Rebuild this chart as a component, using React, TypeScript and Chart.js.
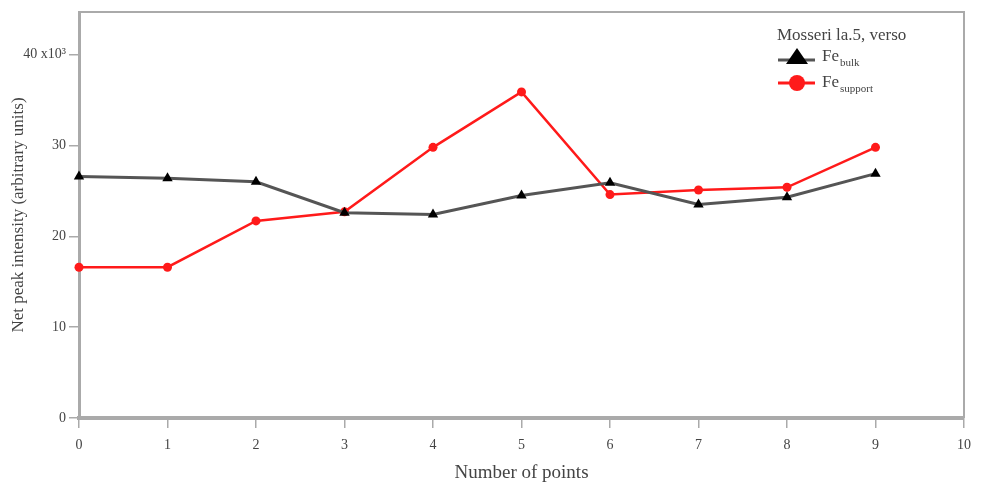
import React, { useEffect, useRef } from "react";
import { Chart, registerables } from "chart.js";

Chart.register(...registerables);

// ---- data ----
const xPoints = [0, 1, 2, 3, 4, 5, 6, 7, 8, 9];
const feBulk = [26.6, 26.4, 26.0, 22.6, 22.4, 24.5, 25.9, 23.5, 24.3, 26.9];
const feSupport = [16.6, 16.6, 21.7, 22.7, 29.8, 35.9, 24.6, 25.1, 25.4, 29.8];
const yTickLabels: Record<number, string> = { 0: "0", 10: "10", 20: "20", 30: "30", 40: "40 x10\u00B3" };
const xTickLabels = ["0", "1", "2", "3", "4", "5", "6", "7", "8", "9", "10"];
const seriesMain = ["Fe", "Fe"];
const seriesSub = ["bulk", "support"];
const legendTitle = "Mosseri la.5, verso";
const xTitle = "Number of points";
const yTitle = "Net peak intensity (arbitrary units)";

const FONT = "'Liberation Serif', 'DejaVu Serif', serif";
const TEXT = "#444";
const AXIS = "#aaa";
const BLACK_LINE = "#555";
const RED = "#ff1a1a";

const framePlugin = {
  id: "frame",
  afterDraw(chart: any) {
    const { ctx, chartArea } = chart;
    ctx.save();
    ctx.strokeStyle = AXIS;
    ctx.lineWidth = 2;
    ctx.beginPath();
    ctx.moveTo(chartArea.left, chartArea.top);
    ctx.lineTo(chartArea.right, chartArea.top);
    ctx.lineTo(chartArea.right, chartArea.bottom);
    ctx.stroke();

    // legend
    const lx = 778;
    ctx.fillStyle = TEXT;
    ctx.font = `17px ${FONT}`;
    ctx.textBaseline = "middle";
    ctx.textAlign = "left";
    ctx.fillText(legendTitle, 777, 36);

    const rows = [57, 83];
    // row 1: triangle
    ctx.strokeStyle = BLACK_LINE;
    ctx.lineWidth = 3;
    ctx.beginPath();
    ctx.moveTo(lx, rows[0] + 3);
    ctx.lineTo(lx + 37, rows[0] + 3);
    ctx.stroke();
    ctx.fillStyle = "#000";
    ctx.beginPath();
    ctx.moveTo(797, rows[0] - 9);
    ctx.lineTo(808, rows[0] + 7);
    ctx.lineTo(786, rows[0] + 7);
    ctx.closePath();
    ctx.fill();
    // row 2: circle
    ctx.strokeStyle = RED;
    ctx.lineWidth = 3;
    ctx.beginPath();
    ctx.moveTo(lx, rows[1]);
    ctx.lineTo(lx + 37, rows[1]);
    ctx.stroke();
    ctx.fillStyle = RED;
    ctx.beginPath();
    ctx.arc(797, rows[1], 8, 0, Math.PI * 2);
    ctx.fill();

    for (let i = 0; i < 2; i++) {
      ctx.fillStyle = TEXT;
      ctx.font = `17px ${FONT}`;
      ctx.fillText(seriesMain[i], 822, rows[i]);
      const w = ctx.measureText(seriesMain[i]).width;
      ctx.font = `11px ${FONT}`;
      ctx.fillText(seriesSub[i], 822 + w + 1, rows[i] + 6);
    }
    ctx.restore();
  },
};

export default function App() {
  const ref = useRef<HTMLCanvasElement>(null);
  useEffect(() => {
    document.body.style.margin = "0";
    const chart = new Chart(ref.current!, {
      type: "line",
      data: {
        datasets: [
          {
            label: seriesMain[0] + seriesSub[0],
            data: xPoints.map((x, i) => ({ x, y: feBulk[i] })),
            borderColor: BLACK_LINE,
            borderWidth: 3,
            pointStyle: "triangle",
            pointRadius: 6,
            pointBackgroundColor: "#000",
            pointBorderColor: "#000",
            pointBorderWidth: 0,
            tension: 0,
            clip: false,
          },
          {
            label: seriesMain[1] + seriesSub[1],
            data: xPoints.map((x, i) => ({ x, y: feSupport[i] })),
            borderColor: RED,
            borderWidth: 2.5,
            pointStyle: "circle",
            pointRadius: 4.5,
            pointBackgroundColor: RED,
            pointBorderColor: RED,
            pointBorderWidth: 0,
            tension: 0,
            clip: false,
          },
        ],
      },
      options: {
        animation: false,
        responsive: false,
        maintainAspectRatio: false,
        layout: { padding: { top: 12, right: 20, left: 0, bottom: 0 } },
        plugins: { legend: { display: false }, tooltip: { enabled: false } },
        scales: {
          x: {
            type: "linear",
            min: 0,
            max: 10,
            afterFit: (s: any) => {
              s.height = 72;
            },
            grid: { drawOnChartArea: false, tickLength: 10, color: AXIS, lineWidth: 1.5 },
            border: { color: AXIS, width: 4 },
            ticks: {
              stepSize: 1,
              padding: 9,
              color: TEXT,
              font: { family: FONT, size: 14 },
              maxRotation: 0,
              autoSkip: false,
              callback: (v: any) => xTickLabels[Number(v)] ?? "",
            },
            title: {
              display: true,
              text: xTitle,
              color: TEXT,
              font: { family: FONT, size: 19 },
              padding: { top: 0, bottom: 6 },
            },
          },
          y: {
            type: "linear",
            min: 0,
            max: 44.7,
            afterFit: (s: any) => {
              s.width = 79;
            },
            grid: { drawOnChartArea: false, tickLength: 10, color: AXIS, lineWidth: 1.5 },
            border: { color: AXIS, width: 3 },
            ticks: {
              stepSize: 10,
              includeBounds: false,
              padding: 3,
              color: TEXT,
              font: { family: FONT, size: 14 },
              callback: (v: any) => yTickLabels[Number(v)] ?? "",
            },
            title: {
              display: true,
              text: yTitle,
              color: TEXT,
              font: { family: FONT, size: 17 },
              padding: { top: 8, bottom: 0 },
            },
          },
        },
      },
      plugins: [framePlugin],
    } as any);
    return () => chart.destroy();
  }, []);
  return (
    <div style={{ width: 984, height: 490 }}>
      <canvas ref={ref} width={984} height={490} style={{ display: "block" }} />
    </div>
  );
}
